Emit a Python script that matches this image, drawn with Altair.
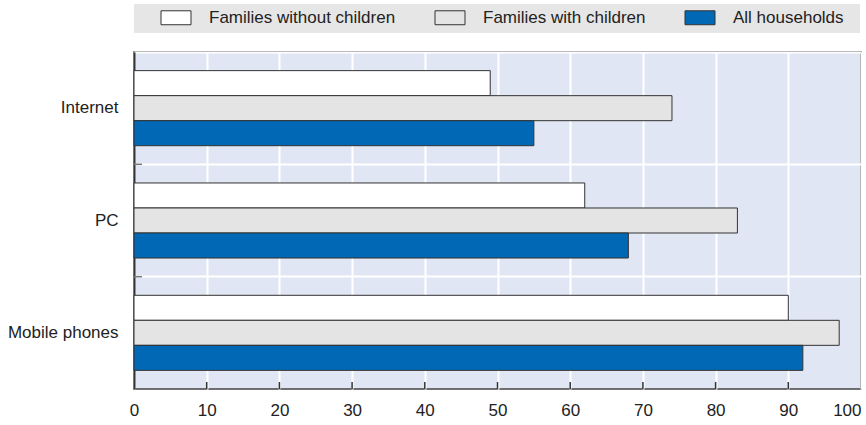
import altair as alt
import pandas as pd

categories = ["Internet", "PC", "Mobile phones"]
series = ["Families without children", "Families with children", "All households"]
without_children = [49, 62, 90]
with_children = [74, 83, 97]
all_households = [55, 68, 92]
x_ticks = [0, 10, 20, 30, 40, 50, 60, 70, 80, 90, 100]
inner_ticks = [10, 20, 30, 40, 50, 60, 70, 80, 90]
boundaries = ["PC", "Mobile phones"]
colors = ["#FFFFFF", "#E4E4E4", "#0068B4"]

rows = []
for i, c in enumerate(categories):
    for s, vals in zip(series, [without_children, with_children, all_households]):
        rows.append({"category": c, "series": s, "value": vals[i]})
df = pd.DataFrame(rows)
tick_df = pd.DataFrame({"value": inner_ticks})
bound_df = pd.DataFrame({"category": boundaries})
legend_bg_df = pd.DataFrame({"item": ["legend"]})

W, H = 727, 337
FONT = "Liberation Sans"

yscale = alt.Scale(domain=categories, paddingInner=0, paddingOuter=0)
xscale = alt.Scale(domain=[0, 100], nice=False, zero=True)

legend_bg = alt.Chart(legend_bg_df).mark_rect(color="#E6E6E6").encode(
    x=alt.value(0),
    x2=alt.value(W - 1),
    y=alt.value(-48),
    y2=alt.value(-19),
)

bars = alt.Chart(df).mark_bar(stroke="#333333", strokeWidth=1).encode(
    x=alt.X(
        "value:Q",
        scale=xscale,
        axis=alt.Axis(
            title=None,
            values=x_ticks,
            grid=True,
            gridColor="white",
            gridWidth=2,
            ticks=False,
            domain=False,
            labelFontSize=17,
            labelFont=FONT,
            labelColor="#222222",
            labelPadding=13,
            labelAlign=alt.expr("datum.value == 100 ? 'right' : 'center'"),
        ),
    ),
    y=alt.Y(
        "category:N",
        sort=categories,
        scale=yscale,
        axis=alt.Axis(
            title=None,
            ticks=False,
            grid=True,
            gridColor="white",
            gridWidth=2,
            bandPosition=0,
            domainColor="#333333",
            domainWidth=2,
            labelFontSize=17,
            labelFont=FONT,
            labelColor="#222222",
            labelPadding=16,
        ),
    ),
    yOffset=alt.YOffset(
        "series:N",
        sort=series,
        scale=alt.Scale(domain=series, paddingInner=0, paddingOuter=0.745),
    ),
    color=alt.Color(
        "series:N",
        sort=series,
        scale=alt.Scale(domain=series, range=colors),
        legend=alt.Legend(
            title=None,
            orient="none",
            legendX=21,
            legendY=-48,
            direction="horizontal",
            padding=5,
            symbolType="M-1,-0.93H3V0.93H-1Z",
            symbolSize=225,
            symbolStrokeColor="#333333",
            symbolStrokeWidth=1,
            symbolOpacity=1,
            labelFontSize=17,
            labelFont=FONT,
            labelColor="#222222",
            labelOffset=32,
            labelLimit=400,
            columnPadding=37,
        ),
    ),
)

left_ticks = alt.Chart(bound_df).mark_rule(color="#777777", strokeWidth=1.5).encode(
    y=alt.Y("category:N", scale=yscale, bandPosition=0),
    x=alt.value(0),
    x2=alt.value(8),
)

bottom_ticks = alt.Chart(tick_df).mark_rule(color="#333333", strokeWidth=1.5).encode(
    x=alt.X("value:Q", scale=xscale),
    y=alt.value(H - 7),
    y2=alt.value(H),
)

chart = (
    alt.layer(bars, legend_bg, left_ticks, bottom_ticks)
    .properties(
        width=W,
        height=H,
        autosize=alt.AutoSizeParams(type="none"),
        padding={"left": 134, "top": 52, "right": 5, "bottom": 36},
    )
    .configure_view(fill="#E0E6F4", stroke="#444444", strokeWidth=1.5)
)

chart.save("out.html", embed_options={"renderer": "svg", "actions": False})
